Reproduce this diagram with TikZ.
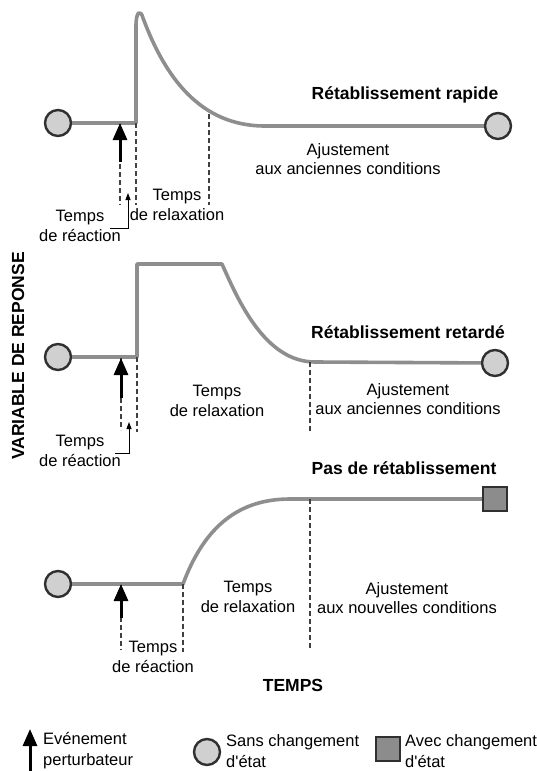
\documentclass[tikz,border=0pt]{standalone}
\usepackage{fontspec}
\setmainfont{Liberation Sans}
\usetikzlibrary{arrows.meta}
\definecolor{curvegray}{HTML}{8E8E8E}
\definecolor{circfill}{HTML}{D0D0D0}
\definecolor{sqfill}{HTML}{8C8C8C}
\definecolor{edge}{HTML}{303030}
\definecolor{dashc}{HTML}{404040}
\tikzset{
  curve/.style={draw=curvegray, line width=3.6pt, line join=round},
  statecirc/.style={circle, draw=edge, fill=circfill, line width=2.4pt, minimum size=26pt, inner sep=0pt},
  statesq/.style={rectangle, draw=edge, fill=sqfill, line width=2.4pt, minimum size=24pt, inner sep=0pt},
  dashln/.style={draw=dashc, line width=1.5pt, dash pattern=on 5pt off 3pt},
  bigarrow/.style={draw=black, line width=3pt, -{Triangle[width=14pt,length=17pt]}},
  smallarrow/.style={draw=black, line width=0.9pt, -{Triangle[width=5pt,length=7pt]}},
  lbl/.style={font=\fontsize{16.5}{19.5}\selectfont, align=center, inner sep=0pt},
  lgd/.style={font=\fontsize{16.5}{21}\selectfont, align=left, inner sep=0pt, anchor=west},
  ttl/.style={font=\fontsize{17.5}{21}\selectfont\bfseries, inner sep=0pt},
}
\begin{document}
\begin{tikzpicture}[x=1pt,y=-1pt]
\useasboundingbox (0,0) rectangle (537,771);

% ---------- Panel 1 : Rétablissement rapide ----------
\node[statecirc] (c1L) at (58,123) {};
\node[statecirc] (c1R) at (498,126) {};
\coordinate (p1a) at (136,123);
\coordinate (p1b) at (209,114);
\draw[curve] (c1L) -- (p1a) -- (136,26) .. controls (136,10) and (141,10) .. (143,18)
   .. controls (165,77) and (200,126) .. (265,126) -- (c1R);
\draw[dashln] (120,124) -- (120,205);
\draw[dashln] (p1a) -- (136,205);
\draw[dashln] (p1b) -- (209,205);
\coordinate (a1s) at (120,162);
\coordinate (a1t) at (120,123);
\draw[bigarrow] (a1s) -- (a1t);
\coordinate (r1a) at (110,228);
\coordinate (r1b) at (128,228);
\coordinate (r1c) at (128,193);
\draw[smallarrow] (r1a) -- (r1b) -- (r1c);
\node[lbl] (t1r) at (80,226) {Temps\\de réaction};
\node[lbl] (t1x) at (177,205) {Temps\\de relaxation};
\node[ttl] (h1) at (405,95) {Rétablissement rapide};
\node[lbl] (j1) at (348,159) {Ajustement\\aux anciennes conditions};

% ---------- Panel 2 : Rétablissement retardé ----------
\node[statecirc] (c2L) at (58,357) {};
\node[statecirc] (c2R) at (495,363) {};
\coordinate (p2a) at (137,357);
\coordinate (p2b) at (310,362);
\draw[curve] (c2L) -- (p2a) -- (137,264) -- (222,264)
   .. controls (238,300) and (265,362) .. (315,362) -- (c2R);
\draw[dashln] (121,358) -- (121,430);
\draw[dashln] (p2a) -- (137,432);
\draw[dashln] (p2b) -- (310,432);
\coordinate (a2s) at (121,398);
\coordinate (a2t) at (121,358);
\draw[bigarrow] (a2s) -- (a2t);
\coordinate (r2a) at (115,453);
\coordinate (r2b) at (129,453);
\coordinate (r2c) at (129,422);
\draw[smallarrow] (r2a) -- (r2b) -- (r2c);
\node[lbl] (t2r) at (80,451) {Temps\\de réaction};
\node[lbl] (t2x) at (217,401) {Temps\\de relaxation};
\node[ttl] (h2) at (408,332) {Rétablissement retardé};
\node[lbl] (j2) at (408,399) {Ajustement\\aux anciennes conditions};

% ---------- Panel 3 : Pas de rétablissement ----------
\node[statecirc] (c3L) at (58,584) {};
\node[statesq] (s3R) at (495,499) {};
\coordinate (p3a) at (183,584);
\coordinate (p3b) at (310,499);
\draw[curve] (c3L) -- (p3a) .. controls (205,525) and (240,499) .. (290,499) -- (s3R);
\draw[dashln] (121,585) -- (121,650);
\draw[dashln] (p3a) -- (183,652);
\draw[dashln] (p3b) -- (310,650);
\coordinate (a3s) at (121,618);
\coordinate (a3t) at (121,584);
\draw[bigarrow] (a3s) -- (a3t);
\node[lbl] (t3r) at (153,657) {Temps\\de réaction};
\node[lbl] (t3x) at (248,597) {Temps\\de relaxation};
\node[ttl] (h3) at (404,468) {Pas de rétablissement};
\node[lbl] (j3) at (407,598) {Ajustement\\aux nouvelles conditions};

% ---------- Axes labels ----------
\node[ttl, rotate=90] (yl) at (18,356) {VARIABLE DE REPONSE};
\node[ttl] (xl) at (293,685) {TEMPS};

% ---------- Legend ----------
\coordinate (la) at (30,771);
\coordinate (lb) at (30,729);
\draw[bigarrow] (la) -- (lb);
\node[lgd] (l1) at (43,751) {Evénement\\perturbateur};
\node[statecirc] (lc) at (207,752) {};
\node[lgd] (l2) at (226,751) {Sans changement\\d\textquotesingle état};
\node[statesq] (ls) at (388,749) {};
\node[lgd] (l3) at (405,751) {Avec changement\\d\textquotesingle état};
\end{tikzpicture}
\end{document}
